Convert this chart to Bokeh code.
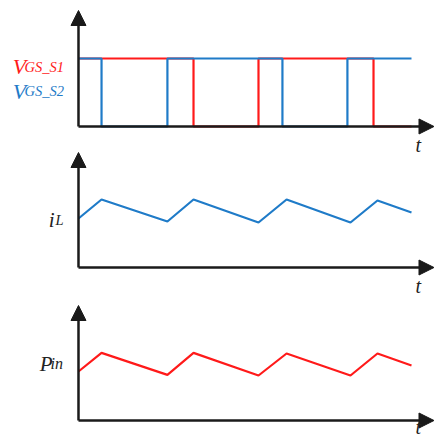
from bokeh.plotting import figure
from bokeh.models import Arrow, NormalHead, Label, Range1d
from bokeh.embed import file_html
from bokeh.resources import INLINE

# ---- data (time normalised to one switching period) ----
# gate signals: edge times and logic level held after each edge
s1_times = [0.0, 0.639, 1.0, 1.639, 1.85]
s1_levels = [1, 0, 1, 0, 0]
s2_times = [0.0, 0.128, 0.494, 1.133, 1.494, 1.85]
s2_levels = [1, 0, 1, 0, 1, 1]

# inductor current and input power (arbitrary units)
wave_times = [0.0, 0.128, 0.494, 0.639, 1.0, 1.156, 1.511, 1.661, 1.85]
il_values = [2.45, 3.4, 2.3, 3.4, 2.25, 3.4, 2.25, 3.35, 2.75]
pin_values = [2.45, 3.38, 2.28, 3.38, 2.25, 3.35, 2.25, 3.35, 2.75]

RED = "#FF1A1A"
BLUE = "#1F7BC8"
AXIS = "#1a1a1a"
INK = "#222222"
SERIF = "Liberation Serif"

T_TIP = 1.975

# one canvas, three stacked traces, each with its own vertical scale
p = figure(width=434, height=437, output_backend="svg",
           toolbar_location=None, x_axis_location=None,
           y_axis_location=None, min_border=0,
           x_range=Range1d(-0.4333, 1.9778),
           y_range=Range1d(-4.5735, 1.8529))
p.extra_y_ranges = {"il": Range1d(-8.5, 13.35), "pin": Range1d(-0.85, 21.0)}
p.grid.visible = False
p.outline_line_color = None
p.background_fill_color = "white"
p.border_fill_color = "white"


def add_axes(rng, y_tip, t_y):
    p.add_layout(Arrow(end=NormalHead(size=15, fill_color=AXIS, line_color=AXIS),
                       x_start=0, y_start=0, x_end=0, y_end=y_tip,
                       line_color=AXIS, line_width=2.5, y_range_name=rng))
    p.add_layout(Arrow(end=NormalHead(size=15, fill_color=AXIS, line_color=AXIS),
                       x_start=0, y_start=0, x_end=T_TIP, y_end=0,
                       line_color=AXIS, line_width=2.5, y_range_name=rng))
    p.add_layout(Label(x=1.872, y=t_y, text="t", text_font=SERIF,
                       text_font_style="italic", text_font_size="20px",
                       text_color=INK, text_baseline="alphabetic",
                       y_range_name=rng))


def lbl(rng, x, y, text, size, color):
    p.add_layout(Label(x=x, y=y, text=text, text_font=SERIF,
                       text_font_style="italic", text_font_size=size,
                       text_color=color, text_baseline="alphabetic",
                       y_range_name=rng))


# ---- gate signals ----
add_axes("default", 1.706, -0.27)
p.step(s1_times, s1_levels, mode="after", line_color=RED, line_width=2.2)
p.step(s2_times, s2_levels, mode="after", line_color=BLUE, line_width=2.2)
lbl("default", -0.365, 0.875, "V", "22px", RED)
lbl("default", -0.300, 0.875, "GS_S1", "14.5px", RED)
lbl("default", -0.365, 0.522, "V", "22px", BLUE)
lbl("default", -0.300, 0.522, "GS_S2", "14.5px", BLUE)

# ---- inductor current ----
add_axes("il", 5.75, -0.9)
p.line(wave_times, il_values, line_color=BLUE, line_width=2.2, y_range_name="il")
lbl("il", -0.165, 2.4, "i", "21px", INK)
lbl("il", -0.128, 2.4, "L", "14.5px", INK)

# ---- input power ----
add_axes("pin", 5.75, -0.3)
p.line(wave_times, pin_values, line_color=RED, line_width=2.2, y_range_name="pin")
lbl("pin", -0.215, 2.85, "P", "21px", INK)
lbl("pin", -0.155, 2.85, "in", "16px", INK)

open("out.html", "w").write(file_html(p, INLINE))
